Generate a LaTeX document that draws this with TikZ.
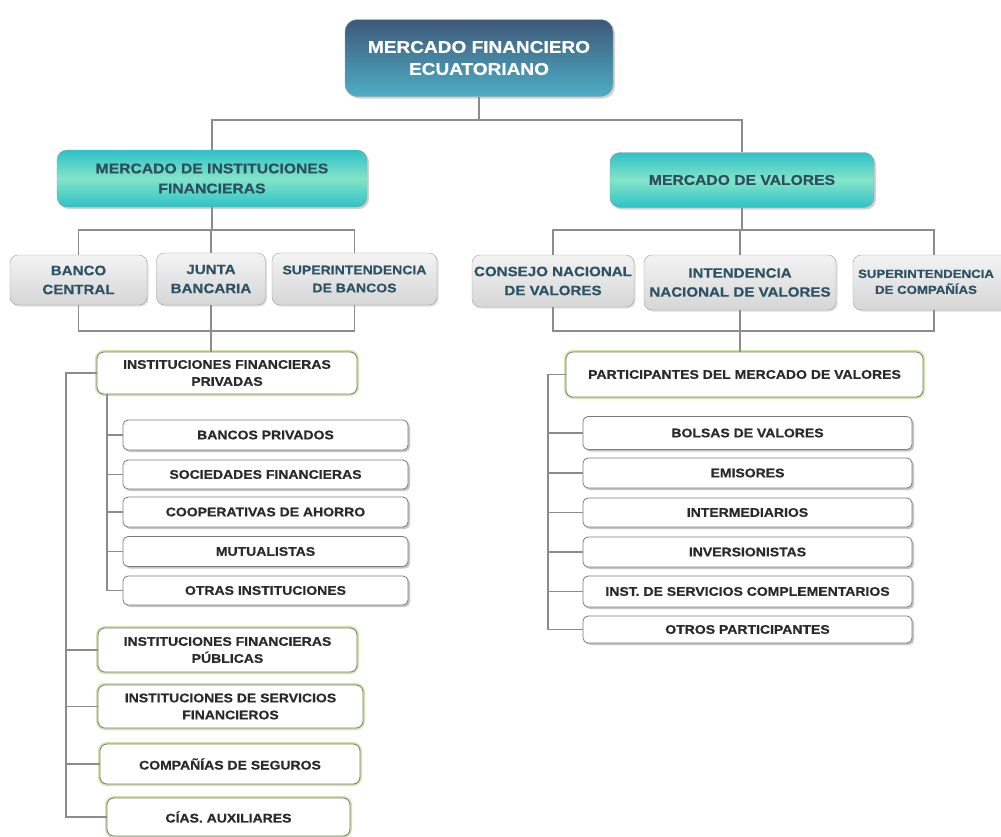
\documentclass[tikz,border=0pt]{standalone}
\usepackage{fontspec}
\newfontfamily\lab{Liberation Sans}[FakeStretch=1.12,BoldFeatures={FakeBold=0.6}]
\usetikzlibrary{shadows,calc}
\definecolor{conncol}{HTML}{8C8C8C}
\definecolor{topA}{HTML}{3E5878}
\definecolor{topB}{HTML}{4DAEC6}
\definecolor{tealA}{HTML}{2EC2C8}
\definecolor{tealB}{HTML}{84E4C8}
\definecolor{lvtwotext}{HTML}{2B4F5E}
\definecolor{lvthreetext}{HTML}{2D5266}
\definecolor{grayA}{HTML}{F3F3F3}
\definecolor{grayB}{HTML}{D6D6D6}
\definecolor{glow}{HTML}{D2E3A6}
\definecolor{leafborder}{HTML}{7A7A7A}
\definecolor{darktext}{HTML}{2A2A2A}
\tikzset{
  conn/.style={draw=conncol, line width=1.5pt},
  topbox/.style={rounded corners=12pt, draw=gray!70, top color=topA, bottom color=topB,
    text=white, align=center, inner sep=0pt, font=\lab\bfseries\fontsize{17}{22}\selectfont,
    drop shadow={opacity=0.35, shadow xshift=2pt, shadow yshift=-2pt}},
  lvtwo/.style={rounded corners=10pt, draw=gray!80, top color=tealA, bottom color=tealA, middle color=tealB,
    text=lvtwotext, align=center, inner sep=0pt, font=\lab\bfseries\fontsize{14}{20}\selectfont,
    drop shadow={opacity=0.35, shadow xshift=2pt, shadow yshift=-2pt}},
  lvthree/.style={rounded corners=8pt, draw=gray!75, top color=grayA, bottom color=grayB,
    text=lvthreetext, align=center, inner sep=0pt, font=\lab\bfseries\fontsize{13.5}{19}\selectfont,
    drop shadow={opacity=0.25, shadow xshift=1.5pt, shadow yshift=-1.5pt}},
  lvfour/.style={rounded corners=7pt, draw=leafborder, fill=white, line width=0.8pt,
    preaction={draw=glow, line width=4pt},
    text=darktext, align=center, inner sep=0pt, font=\lab\bfseries\fontsize{12.5}{17}\selectfont},
  leaf/.style={rounded corners=5pt, draw=leafborder, fill=white, line width=0.8pt,
    text=darktext, align=center, inner sep=0pt, font=\lab\bfseries\fontsize{12.5}{15}\selectfont,
    drop shadow={opacity=0.45, shadow xshift=2pt, shadow yshift=-2pt}},
}
\begin{document}
\begin{tikzpicture}[x=1pt,y=-1pt]
\useasboundingbox (0,0) rectangle (1001,836);
\fill[white] (0,0) rectangle (1001,836);
\clip (0,0) rectangle (1001,836);

% junction levels
\coordinate (yA) at (0,120);
\coordinate (yB) at (0,230);
\coordinate (yC) at (0,331);
\coordinate (sL) at (66,0);
\coordinate (sI) at (107,0);
\coordinate (sR) at (548,0);

% top
\node[topbox, minimum width=268pt, minimum height=77pt] (top) at (479,58) {MERCADO FINANCIERO\\ECUATORIANO};

% level 2
\node[lvtwo, minimum width=310pt, minimum height=57pt] (mif) at (212,178.5) {MERCADO DE INSTITUCIONES\\FINANCIERAS};
\node[lvtwo, minimum width=264pt, minimum height=55pt] (mv) at (742,180) {MERCADO DE VALORES};

% level 3 left
\node[lvthree, minimum width=137pt, minimum height=50pt] (bc) at (78.5,280) {BANCO\\CENTRAL};
\node[lvthree, minimum width=109pt, minimum height=52pt] (jb) at (211,279) {JUNTA\\BANCARIA};
\node[lvthree, minimum width=165pt, minimum height=52pt, font=\lab\bfseries\fontsize{12.5}{18}\selectfont] (sb) at (354.5,279) {SUPERINTENDENCIA\\DE BANCOS};

% level 3 right
\node[lvthree, minimum width=162pt, minimum height=52pt] (cnv) at (553,281) {CONSEJO NACIONAL\\DE VALORES};
\node[lvthree, minimum width=192pt, minimum height=55pt] (inv) at (740,282.5) {INTENDENCIA\\NACIONAL DE VALORES};
\node[lvthree, minimum width=162pt, minimum height=55pt, align=none, font=\lab\bfseries\fontsize{11.8}{17}\selectfont] (sc) at (934,282.5)
  {\hspace*{-16pt}\begin{tabular}{@{}c@{}}SUPERINTENDENCIA\\[-1pt]DE COMPAÑÍAS\end{tabular}};

% level 4
\node[lvfour, minimum width=260pt, minimum height=42pt] (ifp) at (227,373) {INSTITUCIONES FINANCIERAS\\PRIVADAS};
\node[lvfour, minimum width=357pt, minimum height=45pt] (pmv) at (744.5,374.5) {PARTICIPANTES DEL MERCADO DE VALORES};
\node[lvfour, minimum width=259pt, minimum height=44pt] (ifpub) at (227.5,650) {INSTITUCIONES FINANCIERAS\\PÚBLICAS};
\node[lvfour, minimum width=265pt, minimum height=43pt] (isf) at (230.5,706.5) {INSTITUCIONES DE SERVICIOS\\FINANCIEROS};
\node[lvfour, minimum width=260pt, minimum height=40pt] (cs) at (230,764) {COMPAÑÍAS DE SEGUROS};
\node[lvfour, minimum width=243pt, minimum height=38pt] (cias) at (228.5,817) {CÍAS. AUXILIARES};

% leaves left
\node[leaf, minimum width=285pt, minimum height=30pt] (bp) at (265.5,435) {BANCOS PRIVADOS};
\node[leaf, minimum width=285pt, minimum height=29pt] (sf) at (265.5,474.5) {SOCIEDADES FINANCIERAS};
\node[leaf, minimum width=285pt, minimum height=30pt] (ca) at (265.5,512) {COOPERATIVAS DE AHORRO};
\node[leaf, minimum width=285pt, minimum height=30pt] (mu) at (265.5,551.5) {MUTUALISTAS};
\node[leaf, minimum width=285pt, minimum height=29pt] (oi) at (265.5,590.5) {OTRAS INSTITUCIONES};

% leaves right
\node[leaf, minimum width=329pt, minimum height=33pt] (bv) at (747.5,433) {BOLSAS DE VALORES};
\node[leaf, minimum width=329pt, minimum height=30pt] (em) at (747.5,473) {EMISORES};
\node[leaf, minimum width=329pt, minimum height=29pt] (im) at (747.5,512.5) {INTERMEDIARIOS};
\node[leaf, minimum width=329pt, minimum height=30pt] (is) at (747.5,552) {INVERSIONISTAS};
\node[leaf, minimum width=329pt, minimum height=31pt] (isc) at (747.5,591.5) {INST. DE SERVICIOS COMPLEMENTARIOS};
\node[leaf, minimum width=329pt, minimum height=27pt] (op) at (747.5,629.5) {OTROS PARTICIPANTES};

% connectors
\draw[conn] (top.south) -- (top.south |- yA);
\draw[conn] (mif.north) |- (yA -| mv.north) -- (mv.north);

\draw[conn] (mif.south) -- (mif.south |- yB);
\draw[conn] (bc.north) |- (yB -| sb.north) -- (sb.north);
\draw[conn] (jb.north) -- (jb.north |- yB);
\draw[conn] (bc.south) |- (yC -| sb.south) -- (sb.south);
\draw[conn] (jb.south) -- (jb.south |- ifp.north);

\draw[conn] (mv.south) -- (mv.south |- yB);
\draw[conn] (cnv.north) |- (yB -| sc.north) -- (sc.north);
\draw[conn] (inv.north) -- (inv.north |- yB);
\draw[conn] (cnv.south) |- (yC -| sc.south) -- (sc.south);
\draw[conn] (inv.south) -- (inv.south |- pmv.north);

% left spine
\draw[conn] (ifp.west) -| (sL |- cias.west) -- (cias.west);
\draw[conn] (sL |- ifpub.west) -- (ifpub.west);
\draw[conn] (sL |- isf.west) -- (isf.west);
\draw[conn] (sL |- cs.west) -- (cs.west);

% inner spine
\draw[conn] (sI |- ifp.south) |- (oi.west);
\draw[conn] (sI |- bp.west) -- (bp.west);
\draw[conn] (sI |- sf.west) -- (sf.west);
\draw[conn] (sI |- ca.west) -- (ca.west);
\draw[conn] (sI |- mu.west) -- (mu.west);

% right spine
\draw[conn] (pmv.west) -| (sR |- op.west) -- (op.west);
\draw[conn] (sR |- bv.west) -- (bv.west);
\draw[conn] (sR |- em.west) -- (em.west);
\draw[conn] (sR |- im.west) -- (im.west);
\draw[conn] (sR |- is.west) -- (is.west);
\draw[conn] (sR |- isc.west) -- (isc.west);
\end{tikzpicture}
\end{document}
